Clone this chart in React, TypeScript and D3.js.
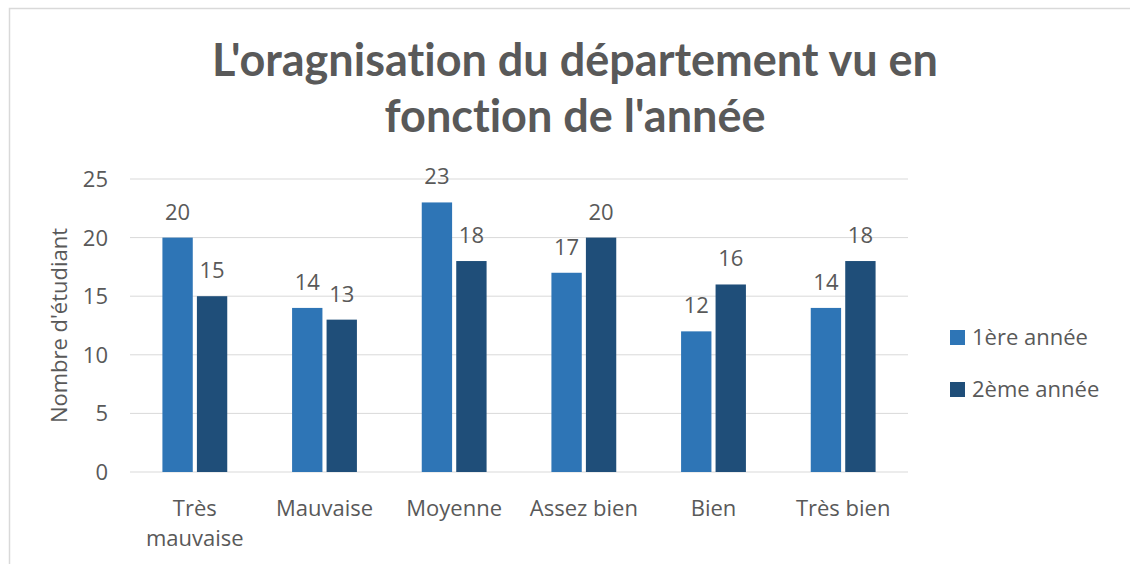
import React from 'react';
import * as d3 from 'd3';

const categories = ['Très mauvaise', 'Mauvaise', 'Moyenne', 'Assez bien', 'Bien', 'Très bien'];
const seriesNames = ['1ère année', '2ème année'];
const annee1 = [20, 14, 23, 17, 12, 14];
const annee2 = [15, 13, 18, 20, 16, 18];
const yTicks = [0, 5, 10, 15, 20, 25];
const colors = ['#2E75B6', '#1F4E79'];

const W = 1130;
const H = 564;
const plot = { left: 130, right: 908, top: 179, bottom: 472 };
const textColor = '#595959';
const font = '"Open Sans", sans-serif';

const App: React.FC = () => {
  const x = d3.scaleBand<string>().domain(categories).range([plot.left, plot.right]).paddingInner(0.5).paddingOuter(0.25);
  const xs = d3.scaleBand<string>().domain(seriesNames).range([0, x.bandwidth()]).paddingInner(0.12);
  const y = d3.scaleLinear().domain([0, 25]).range([plot.bottom, plot.top]);
  const series = [annee1, annee2];

  // Excel wraps the long first category
  const wrapLabel = (c: string) => (c === 'Très mauvaise' ? ['Très', 'mauvaise'] : [c]);

  return (
    <svg width={W} height={H} style={{ position: 'absolute', left: 0, top: 0, background: '#fff' }} fontFamily={font}>
      <rect x={9.5} y={8.5} width={W + 10} height={H + 10} fill="#fff" stroke="#d9d9d9" strokeWidth={1.5} />
      <g fontFamily="Lato, sans-serif" fontSize={45} fontWeight={700} fill={textColor} textAnchor="middle" style={{ fontVariantLigatures: 'none' }}>
        <text x={575} y={76}>L'oragnisation du département vu en</text>
        <text x={575} y={132}>fonction de l'année</text>
      </g>

      {yTicks.map(t => (
        <g key={t}>
          <line x1={plot.left} x2={plot.right} y1={y(t)} y2={y(t)} stroke="#d9d9d9" strokeWidth={1} />
          <text x={108} y={y(t)} dy="0.36em" textAnchor="end" fontSize={22} fill={textColor}>{t}</text>
        </g>
      ))}

      <text transform={`translate(67,${(plot.top + plot.bottom) / 2}) rotate(-90)`} textAnchor="middle" fontSize={22} fill={textColor}>
        Nombre d'étudiant
      </text>

      {categories.map((c, i) => (
        <g key={c} transform={`translate(${x(c)},0)`}>
          {series.map((s, j) => (
            <g key={j}>
              <rect x={xs(seriesNames[j])} y={y(s[i])} width={xs.bandwidth()} height={y(0) - y(s[i])} fill={colors[j]} />
              <text x={(xs(seriesNames[j]) as number) + xs.bandwidth() / 2} y={y(s[i]) - 18} textAnchor="middle" fontSize={22} fill={textColor}>
                {s[i]}
              </text>
            </g>
          ))}
          {wrapLabel(c).map((l, k) => (
            <text key={l} x={x.bandwidth() / 2} y={516 + k * 30} textAnchor="middle" fontSize={22} fill={textColor}>{l}</text>
          ))}
        </g>
      ))}

      {seriesNames.map((n, j) => (
        <g key={n} transform={`translate(950,${338 + j * 52})`}>
          <rect x={0} y={-8} width={15} height={15} fill={colors[j]} />
          <text x={22} y={7} fontSize={22} fill={textColor}>{n}</text>
        </g>
      ))}
    </svg>
  );
};

export default App;
